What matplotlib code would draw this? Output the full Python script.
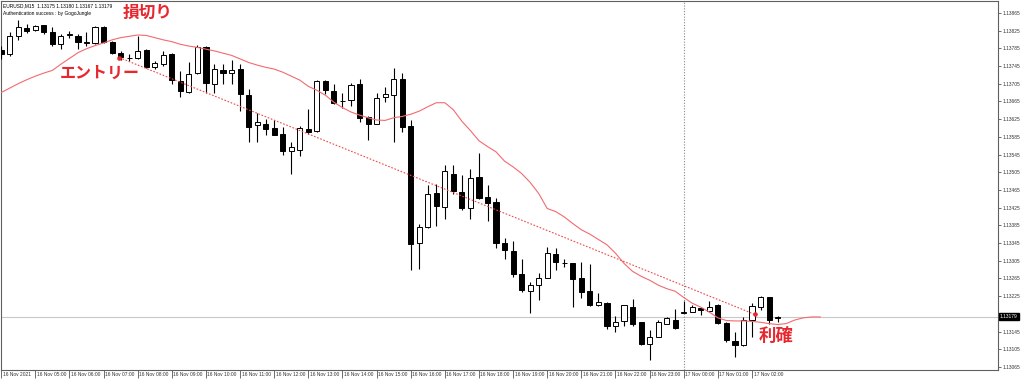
import numpy as np
import matplotlib
matplotlib.use("Agg")
import matplotlib.pyplot as plt
import matplotlib.transforms as mtransforms

# ---------------- data ----------------
symbol_line = "EURUSD,M15  1.13175 1.13180 1.13167 1.13179"
auth_line = "Authentication success : by GogoJungle"

opens = [1.13782, 1.13773, 1.13813, 1.13830, 1.13826, 1.13837, 1.13822, 1.13794, 1.13816, 1.13813,
         1.13798, 1.13798, 1.13832, 1.13800, 1.13774, 1.13762, 1.13763, 1.13781, 1.13742, 1.13749,
         1.13772, 1.13712, 1.13687, 1.13729, 1.13788, 1.13704, 1.13737, 1.13729, 1.13738, 1.13680,
         1.13612, 1.13615, 1.13605, 1.13592, 1.13554, 1.13556, 1.13603, 1.13597, 1.13710, 1.13689,
         1.13665, 1.13669, 1.13704, 1.13629, 1.13615, 1.13674, 1.13680, 1.13716, 1.13610, 1.13344,
         1.13381, 1.13458, 1.13426, 1.13501, 1.13460, 1.13425, 1.13494, 1.13449, 1.13437, 1.13345,
         1.13327, 1.13274, 1.13237, 1.13250, 1.13267, 1.13321, 1.13300, 1.13299, 1.13267, 1.13236,
         1.13204, 1.13210, 1.13158, 1.13170, 1.13200, 1.13166, 1.13117, 1.13133, 1.13163, 1.13171,
         1.13188, 1.13190, 1.13199, 1.13191, 1.13206, 1.13165, 1.13124, 1.13114, 1.13171, 1.13201,
         1.13222, 1.13175]
highs = [1.13791, 1.13822, 1.13849, 1.13839, 1.13838, 1.13838, 1.13832, 1.13818, 1.13824, 1.13817,
         1.13821, 1.13836, 1.13836, 1.13802, 1.13778, 1.13772, 1.13813, 1.13783, 1.13757, 1.13779,
         1.13775, 1.13734, 1.13753, 1.13793, 1.13791, 1.13749, 1.13749, 1.13758, 1.13749, 1.13693,
         1.13638, 1.13625, 1.13624, 1.13608, 1.13573, 1.13610, 1.13648, 1.13714, 1.13713, 1.13704,
         1.13685, 1.13707, 1.13716, 1.13633, 1.13685, 1.13697, 1.13740, 1.13730, 1.13622, 1.13387,
         1.13477, 1.13479, 1.13522, 1.13522, 1.13498, 1.13513, 1.13549, 1.13477, 1.13447, 1.13357,
         1.13350, 1.13310, 1.13257, 1.13278, 1.13335, 1.13334, 1.13308, 1.13300, 1.13303, 1.13297,
         1.13233, 1.13212, 1.13181, 1.13206, 1.13218, 1.13167, 1.13148, 1.13171, 1.13178, 1.13195,
         1.13214, 1.13205, 1.13200, 1.13214, 1.13207, 1.13167, 1.13145, 1.13178, 1.13209, 1.13225,
         1.13223, 1.13180]
lows = [1.13761, 1.13768, 1.13804, 1.13820, 1.13824, 1.13817, 1.13791, 1.13784, 1.13809, 1.13783,
        1.13791, 1.13794, 1.13798, 1.13772, 1.13758, 1.13757, 1.13761, 1.13740, 1.13738, 1.13746,
        1.13704, 1.13676, 1.13683, 1.13727, 1.13685, 1.13683, 1.13704, 1.13704, 1.13644, 1.13573,
        1.13573, 1.13590, 1.13588, 1.13543, 1.13501, 1.13541, 1.13592, 1.13595, 1.13682, 1.13659,
        1.13650, 1.13654, 1.13618, 1.13578, 1.13613, 1.13663, 1.13573, 1.13595, 1.13284, 1.13286,
        1.13380, 1.13383, 1.13400, 1.13456, 1.13419, 1.13400, 1.13445, 1.13395, 1.13333, 1.13308,
        1.13268, 1.13235, 1.13188, 1.13217, 1.13265, 1.13284, 1.13291, 1.13201, 1.13220, 1.13203,
        1.13203, 1.13150, 1.13143, 1.13157, 1.13158, 1.13114, 1.13081, 1.13133, 1.13162, 1.13151,
        1.13187, 1.13189, 1.13182, 1.13189, 1.13163, 1.13122, 1.13088, 1.13112, 1.13132, 1.13193,
        1.13163, 1.13167]
closes = [1.13773, 1.13813, 1.13832, 1.13824, 1.13836, 1.13821, 1.13795, 1.13813, 1.13818, 1.13800,
          1.13799, 1.13832, 1.13800, 1.13774, 1.13766, 1.13763, 1.13779, 1.13742, 1.13751, 1.13770,
          1.13713, 1.13688, 1.13727, 1.13788, 1.13707, 1.13738, 1.13729, 1.13737, 1.13682, 1.13607,
          1.13619, 1.13603, 1.13589, 1.13552, 1.13561, 1.13605, 1.13595, 1.13712, 1.13691, 1.13661,
          1.13666, 1.13702, 1.13628, 1.13615, 1.13673, 1.13682, 1.13716, 1.13608, 1.13342, 1.13381,
          1.13456, 1.13429, 1.13507, 1.13462, 1.13425, 1.13492, 1.13447, 1.13435, 1.13346, 1.13329,
          1.13274, 1.13238, 1.13250, 1.13266, 1.13322, 1.13302, 1.13299, 1.13263, 1.13235, 1.13204,
          1.13211, 1.13157, 1.13166, 1.13204, 1.13161, 1.13117, 1.13132, 1.13166, 1.13175, 1.13152,
          1.13189, 1.13201, 1.13193, 1.13200, 1.13165, 1.13126, 1.13114, 1.13172, 1.13203, 1.13222,
          1.13171, 1.13179]

# moving average (shifted, extends beyond last bar)
ma_values = [1.13685, 1.13695, 1.13705, 1.13714, 1.13722, 1.13729, 1.13735, 1.13749, 1.13762, 1.13775,
             1.13784, 1.13791, 1.13797, 1.13804, 1.13809, 1.13812, 1.13815, 1.13814, 1.13809, 1.13804,
             1.13800, 1.13794, 1.13790, 1.13787, 1.13783, 1.13779, 1.13774, 1.13769, 1.13761, 1.13753,
             1.13747, 1.13742, 1.13738, 1.13731, 1.13722, 1.13713, 1.13699, 1.13690, 1.13679, 1.13663,
             1.13651, 1.13641, 1.13634, 1.13628, 1.13623, 1.13622, 1.13628, 1.13631, 1.13636, 1.13643,
             1.13653, 1.13662, 1.13662, 1.13646, 1.13620, 1.13599, 1.13576, 1.13563, 1.13551, 1.13530,
             1.13517, 1.13502, 1.13482, 1.13457, 1.13423, 1.13416, 1.13404, 1.13389, 1.13375, 1.13365,
             1.13353, 1.13341, 1.13322, 1.13299, 1.13281, 1.13270, 1.13261, 1.13250, 1.13242, 1.13236,
             1.13222, 1.13209, 1.13200, 1.13189, 1.13176, 1.13170, 1.13169, 1.13169, 1.13168, 1.13166,
             1.13163, 1.13161, 1.13163, 1.13171, 1.13176, 1.13178, 1.13178]

# trade trend line (entry -> exit), bar index and price
trade_bars = [13.85, 88.3]
trade_prices = [1.13764, 1.13184]

current_price = 1.13179
day_separator_bar = 80

tick_bars = list(range(0, 92, 4))
tick_labels = ["16 Nov 2021", "16 Nov 05:00", "16 Nov 06:00", "16 Nov 07:00", "16 Nov 08:00",
               "16 Nov 09:00", "16 Nov 10:00", "16 Nov 11:00", "16 Nov 12:00", "16 Nov 13:00",
               "16 Nov 14:00", "16 Nov 15:00", "16 Nov 16:00", "16 Nov 17:00", "16 Nov 18:00",
               "16 Nov 19:00", "16 Nov 20:00", "16 Nov 21:00", "16 Nov 22:00", "16 Nov 23:00",
               "17 Nov 00:00", "17 Nov 01:00", "17 Nov 02:00"]
price_ticks = [1.13065, 1.13105, 1.13145, 1.13185, 1.13225, 1.13265, 1.13305, 1.13345, 1.13385,
               1.13425, 1.13465, 1.13505, 1.13545, 1.13585, 1.13625, 1.13665, 1.13705, 1.13745,
               1.13785, 1.13825, 1.13865]

# ---------------- figure ----------------
W, H = 1024, 381
fig = plt.figure(figsize=(W / 100, H / 100), dpi=100)
ax = fig.add_axes([1 / W, 11 / H, 997 / W, 369 / H])

small_font = dict(family="Liberation Sans", size=3.5)

o = np.array(opens); h = np.array(highs); l = np.array(lows); c = np.array(closes)
x = np.arange(len(o))
up = c >= o

# wicks
ax.vlines(x, l, h, color="black", lw=0.8, zorder=3)
# bodies
bottoms = np.minimum(o, c)
heights = np.maximum(np.abs(c - o), 0.000015)
ax.bar(x[up], heights[up], bottom=bottoms[up], width=0.6, facecolor="white",
       edgecolor="black", lw=0.7, zorder=4)
ax.bar(x[~up], heights[~up], bottom=bottoms[~up], width=0.6, facecolor="black",
       edgecolor="black", lw=0.7, zorder=4)

# moving average
ax.plot(np.arange(len(ma_values)), ma_values, color="#f36a6f", lw=0.8, zorder=5)

# trade line
ax.plot(trade_bars, trade_prices, color="#f04848", lw=0.8, ls=(0, (1.5, 1.5)), zorder=6)
ax.plot(trade_bars, trade_prices, ls="none", marker="o", ms=2.3, color="#e8262e", zorder=7)

# current price line and day separator
ax.axhline(current_price, color="#c8c8c8", lw=0.8, zorder=1)
ax.axvline(day_separator_bar, color="#888888", lw=0.8, ls=(0, (1, 1.5)), zorder=1)

# limits
ax.set_xlim(-0.02, 116.83)
ax.set_ylim(1.130582, 1.138918)

# axes styling
for s in ax.spines.values():
    s.set_color("#606060")
    s.set_linewidth(0.8)

ax.yaxis.tick_right()
ax.set_yticks(price_ticks)
# the 1.13185 label sits under the current-price box, as in the reference
ax.set_yticklabels(["" if abs(p - 1.13185) < 1e-7 else f"{p:.5f}" for p in price_ticks],
                   **small_font)
ax.tick_params(axis="y", length=2, width=0.5, pad=1, colors="#333333")

ax.set_xticks(tick_bars)
ax.set_xticklabels(tick_labels, **small_font)
ax.tick_params(axis="x", length=5.5, width=0.5, pad=-4.0, colors="#333333")
offset = mtransforms.ScaledTranslation(1.5 / 100, 0, fig.dpi_scale_trans)
for lab in ax.get_xticklabels():
    lab.set_horizontalalignment("left")
    lab.set_transform(lab.get_transform() + offset)

# current price box on the right axis
trans = mtransforms.blended_transform_factory(ax.transAxes, ax.transData)
ax.text(1.002, current_price, f"{current_price:.5f}", transform=trans, ha="left", va="center",
        color="white", family="Liberation Sans", size=3.5,
        bbox=dict(boxstyle="square,pad=0.25", facecolor="black", edgecolor="black"), zorder=10,
        clip_on=False)

# top-left info text
fig.text(3 / W, 1 - 6 / H, symbol_line, ha="left", va="center", color="black", **small_font)
fig.text(3 / W, 1 - 14 / H, auth_line, ha="left", va="center", color="black", **small_font)

# annotations
red = "#e8262e"
jp = dict(family=["Noto Sans CJK JP", "DejaVu Sans"], weight="bold", color=red)
fig.text(148 / W, 1 - 13 / H, "損切り", ha="center", va="center", size=12, **jp)
fig.text(100 / W, 1 - 73 / H, "エントリー", ha="center", va="center", size=11.5, **jp)
fig.text(776 / W, 1 - 336 / H, "利確", ha="center", va="center", size=12.5, **jp)

fig.savefig("out.png", dpi=100)
